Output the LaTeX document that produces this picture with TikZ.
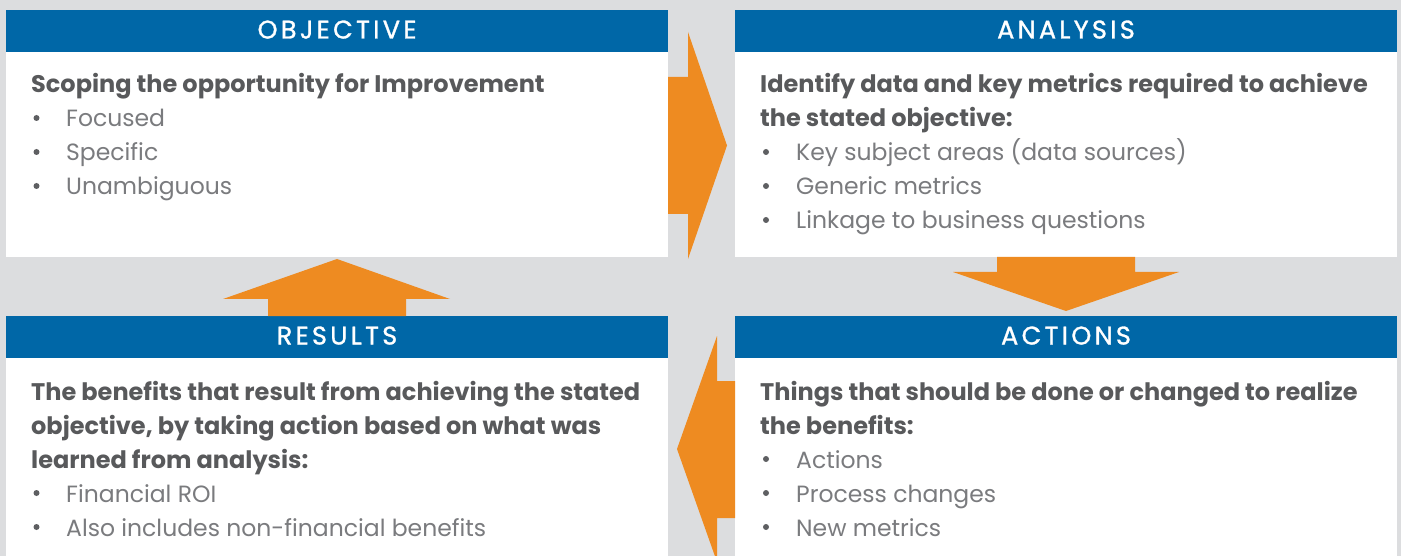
\documentclass[tikz,border=0pt]{standalone}
\usepackage{fontspec}
\setmainfont{Poppins}
\newfontfamily\bandfont[LetterSpace=13,FakeBold=1.2]{Poppins}
\definecolor{bg}{HTML}{DCDDDF}
\definecolor{band}{HTML}{0067A7}
\definecolor{flow}{HTML}{EE8B21}
\definecolor{lead}{HTML}{58595B}
\definecolor{item}{HTML}{7A7B7E}
\definecolor{bullet}{HTML}{5E5F62}
\begin{document}
\begin{tikzpicture}[x=1pt,y=-1pt,
  panel/.style={fill=white, inner sep=0, outer sep=0, anchor=north west,
    minimum width=662pt, minimum height=247pt},
  bandbox/.style={fill=band, inner sep=0, outer sep=0, anchor=north west,
    minimum width=662pt, minimum height=42pt},
  title/.style={anchor=base, text=white, inner sep=0,
    font=\bandfont\fontsize{25.5}{30}\selectfont},
  leadtxt/.style={anchor=base west, text=lead, inner sep=0,
    font=\fontsize{24}{30}\selectfont\bfseries},
  itemtxt/.style={anchor=base west, text=item, inner sep=0,
    font=\fontsize{23.5}{30}\selectfont},
  dot/.style={circle, fill=bullet, inner sep=0, minimum size=6pt},
  block/.style={fill=flow, draw=none}]
  \useasboundingbox (0,0) rectangle (1401,556);
  \clip (0,0) rectangle (1401,556);
  \fill[bg] (0,0) rectangle (1401,556);

  % panels
  \node[panel] (obj) at (6,10) {};
  \node[panel] (ana) at (735,10) {};
  \node[panel] (res) at (6,316) {};
  \node[panel] (act) at (735,316) {};

  % title bands
  \node[bandbox] (objh) at (6,10) {};
  \node[bandbox] (anah) at (735,10) {};
  \node[bandbox] (resh) at (6,316) {};
  \node[bandbox] (acth) at (735,316) {};
  \node[title] (objt) at (337,38.5) {OBJECTIVE};
  \node[title] (anat) at (1066,38.5) {ANALYSIS};
  \node[title] (rest) at (337,344.5) {RESULTS};
  \node[title] (actt) at (1066,344.5) {ACTIONS};

  % block arrows between the panels
  \fill[block] (668,77) -- (688,77) -- (688,32) -- (727,145.5) -- (688,259)
    -- (688,214) -- (668,214) -- cycle;
  \fill[block] (997,257) -- (1135,257) -- (1135,272) -- (1179,272) -- (1066,311)
    -- (953,272) -- (997,272) -- cycle;
  \fill[block] (735,381) -- (717,381) -- (717,336) -- (677,449) -- (717,562)
    -- (717,518) -- (735,518) -- cycle;
  \fill[block] (268,316) -- (268,299) -- (223,299) -- (337,259) -- (450,299)
    -- (406,299) -- (406,316) -- cycle;

  % OBJECTIVE
  \node[leadtxt] (o1) at (31,93) {Scoping the opportunity for Improvement};
  \node[dot] (ob1) at (36.5,118) {};
  \node[itemtxt] (o2) at (66,127) {Focused};
  \node[dot] (ob2) at (36.5,152) {};
  \node[itemtxt] (o3) at (66,161) {Specific};
  \node[dot] (ob3) at (36.5,186) {};
  \node[itemtxt] (o4) at (66,195) {Unambiguous};

  % ANALYSIS
  \node[leadtxt] (a1) at (760,93) {Identify data and key metrics required to achieve};
  \node[leadtxt] (a2) at (760,127) {the stated objective:};
  \node[dot] (ab1) at (766,152) {};
  \node[itemtxt] (a3) at (796,161) {Key subject areas (data sources)};
  \node[dot] (ab2) at (766,186) {};
  \node[itemtxt] (a4) at (796,195) {Generic metrics};
  \node[dot] (ab3) at (766,220) {};
  \node[itemtxt] (a5) at (796,229) {Linkage to business questions};

  % RESULTS
  \node[leadtxt] (r1) at (31,400) {The benefits that result from achieving the stated};
  \node[leadtxt] (r2) at (31,434) {objective, by taking action based on what was};
  \node[leadtxt] (r3) at (31,468) {learned from analysis:};
  \node[dot] (rb1) at (36.5,493) {};
  \node[itemtxt] (r4) at (66,502) {Financial ROI};
  \node[dot] (rb2) at (36.5,527) {};
  \node[itemtxt] (r5) at (66,536) {Also includes non-financial benefits};

  % ACTIONS
  \node[leadtxt] (c1) at (760,400) {Things that should be done or changed to realize};
  \node[leadtxt] (c2) at (760,434) {the benefits:};
  \node[dot] (cb1) at (766,459) {};
  \node[itemtxt] (c3) at (796,468) {Actions};
  \node[dot] (cb2) at (766,493) {};
  \node[itemtxt] (c4) at (796,502) {Process changes};
  \node[dot] (cb3) at (766,527) {};
  \node[itemtxt] (c5) at (796,536) {New metrics};
\end{tikzpicture}
\end{document}
